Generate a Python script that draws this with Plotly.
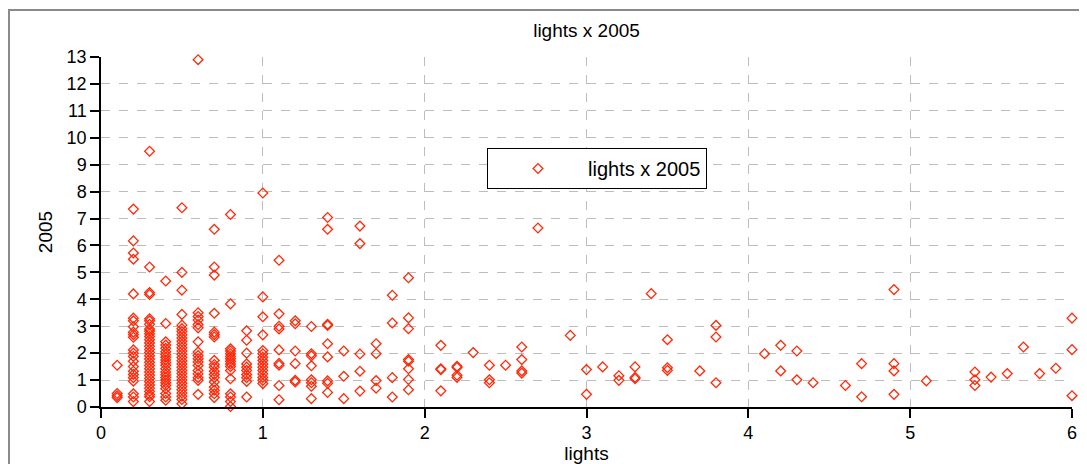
import plotly.graph_objects as go

# x positions (lights) and the 2005 values observed at each position
light_levels = [0.1, 0.2, 0.3, 0.4, 0.5, 0.6, 0.7, 0.8, 0.9, 1.0, 1.1, 1.2, 1.3, 1.4, 1.5, 1.6,
                1.7, 1.8, 1.9, 2.1, 2.2, 2.3, 2.4, 2.5, 2.6, 2.7, 2.9, 3.0, 3.1, 3.2, 3.3, 3.4,
                3.5, 3.7, 3.8, 4.1, 4.2, 4.3, 4.4, 4.6, 4.7, 4.9, 5.1, 5.4, 5.5, 5.6, 5.7, 5.8,
                5.9, 6.0]
values_2005 = [
    [1.55, 0.5, 0.42, 0.35],
    [7.35, 6.17, 5.72, 5.49, 4.2, 3.3, 3.2, 2.98, 2.78, 2.69, 2.59, 2.12, 2.0, 1.88, 1.7, 1.5,
     1.33, 1.21, 1.09, 0.96, 0.49, 0.37, 0.2],
    [9.5, 5.2, 4.25, 4.18, 3.28, 3.2, 3.07, 2.9, 2.82, 2.72, 2.62, 2.5, 2.38, 2.26, 2.14, 2.02,
     1.9, 1.78, 1.66, 1.54, 1.42, 1.3, 1.18, 1.06, 0.94, 0.82, 0.7, 0.58, 0.46, 0.38, 0.2],
    [4.68, 3.1, 2.42, 2.3, 2.18, 2.05, 1.95, 1.85, 1.75, 1.65, 1.55, 1.42, 1.3, 1.2, 1.1, 1.0,
     0.9, 0.8, 0.68, 0.5, 0.37, 0.25],
    [7.4, 5.0, 4.34, 3.44, 3.04, 2.91, 2.8, 2.68, 2.56, 2.44, 2.32, 2.2, 2.08, 1.96, 1.84, 1.72,
     1.6, 1.48, 1.36, 1.24, 1.12, 1.0, 0.88, 0.76, 0.64, 0.52, 0.4, 0.28, 0.12],
    [12.9, 3.5, 3.36, 3.23, 3.06, 2.94, 2.42, 2.04, 1.91, 1.79, 1.67, 1.54, 1.36, 1.23, 1.09,
     0.99, 0.47],
    [6.6, 5.2, 4.9, 3.48, 2.78, 2.69, 2.6, 1.73, 1.58, 1.48, 1.33, 1.21, 1.09, 0.93, 0.74, 0.62,
     0.49, 0.35],
    [7.15, 3.83, 2.16, 2.08, 1.98, 1.88, 1.79, 1.7, 1.6, 1.5, 1.36, 1.05, 0.49, 0.37, 0.2, 0.02],
    [2.83, 2.48, 2.0, 1.6, 1.48, 1.36, 1.21, 1.09, 0.95, 0.37],
    [7.95, 4.09, 3.35, 2.68, 2.1, 1.98, 1.85, 1.73, 1.6, 1.48, 1.36, 1.23, 1.1, 0.99, 0.87],
    [5.45, 3.46, 3.0, 2.9, 2.12, 1.62, 1.55, 0.8, 0.27],
    [3.2, 3.09, 2.08, 1.61, 0.99, 0.93],
    [2.99, 1.98, 1.9, 1.53, 1.01, 0.9, 0.77, 0.31],
    [7.04, 6.6, 3.07, 3.03, 2.35, 1.86, 0.97, 0.88, 0.54],
    [2.08, 1.14, 0.31],
    [6.72, 6.07, 1.97, 1.33, 0.59],
    [2.35, 1.98, 0.98, 0.7],
    [4.15, 3.12, 1.09, 0.37],
    [4.8, 3.31, 2.91, 1.76, 1.7, 1.42, 1.02, 0.64],
    [2.29, 1.42, 1.39, 0.6],
    [1.51, 1.47, 1.18, 1.1],
    [2.02],
    [1.55, 1.01, 0.9],
    [1.55],
    [2.23, 1.76, 1.34, 1.26],
    [6.65],
    [2.66],
    [1.39, 0.47],
    [1.49],
    [1.16, 0.99],
    [1.49, 1.1, 1.05],
    [4.21],
    [2.5, 1.46, 1.36],
    [1.34],
    [3.03, 2.6, 0.9],
    [1.98],
    [2.29, 1.34],
    [2.08, 1.01],
    [0.9],
    [0.8],
    [1.61, 0.38],
    [4.36, 1.61, 1.34, 0.47],
    [0.97],
    [1.3, 1.01, 0.8],
    [1.11],
    [1.24],
    [2.23],
    [1.24],
    [1.44],
    [3.3, 2.13, 0.42],
]
x_ticks = [0, 1, 2, 3, 4, 5, 6]
y_ticks = list(range(0, 14))

xs, ys = [], []
for lv, vals in zip(light_levels, values_2005):
    for v in vals:
        xs.append(lv)
        ys.append(v)

FONT = "Liberation Sans Narrow, Liberation Sans, Arial, sans-serif"

# the page body has an 8px margin, so the figure is laid out 8px smaller
OFF = 8
W, H = 1087 - OFF, 464 - OFF
PL, PR, PT, PB = 101 - OFF, 1072 - OFF, 57 - OFF, 407 - OFF
PW, PH = PR - PL, PB - PT

fig = go.Figure()
fig.add_trace(go.Scatter(
    x=xs, y=ys, mode="markers", name="lights x 2005",
    marker=dict(symbol="diamond-open", size=7.5, color="#ff2a0a", line=dict(width=1.3, color="#ff2a0a")),
    cliponaxis=False,
))

axis_common = dict(
    showline=True, linecolor="black", linewidth=1.5,
    ticks="outside", ticklen=9, tickcolor="black", tickwidth=1.5,
    showgrid=True, gridcolor="#bdbdbd", griddash="dash", gridwidth=1,
    zeroline=False, mirror=False, automargin=False,
    tickfont=dict(family=FONT, size=18, color="black"),
)

fig.update_layout(
    width=W, height=H,
    margin=dict(l=PL, r=W - PR, t=PT, b=H - PB, autoexpand=False),
    paper_bgcolor="white", plot_bgcolor="white",
    title=dict(text="lights x 2005", x=(586.5 - OFF) / W, xanchor="center", y=1 - (30 - OFF) / H,
               yanchor="middle", font=dict(family=FONT, size=19, color="black")),
    xaxis=dict(range=[0, 6], tickvals=x_ticks, **axis_common,
               title=dict(text="lights", font=dict(family=FONT, size=19, color="black"), standoff=2)),
    yaxis=dict(range=[0, 13], tickvals=y_ticks, **axis_common,
               title=dict(text="2005", font=dict(family=FONT, size=19, color="black"), standoff=9)),
    showlegend=True,
    legend=dict(x=(487 - 101) / PW, y=(407 - 148) / PH, xanchor="left", yanchor="top",
                bgcolor="white", bordercolor="black", borderwidth=1,
                font=dict(family="Liberation Sans, Arial, sans-serif", size=20, color="black"),
                itemwidth=90),
    shapes=[dict(type="rect", xref="paper", yref="paper",
                 x0=(1 - PL) / PW, x1=(1081 - OFF - PL) / PW,
                 y0=(PB - 480) / PH, y1=(PB - (10 - OFF)) / PH,
                 line=dict(color="#8a8a8a", width=2), fillcolor="rgba(0,0,0,0)", layer="below")],
)

fig.write_html("out.html")
